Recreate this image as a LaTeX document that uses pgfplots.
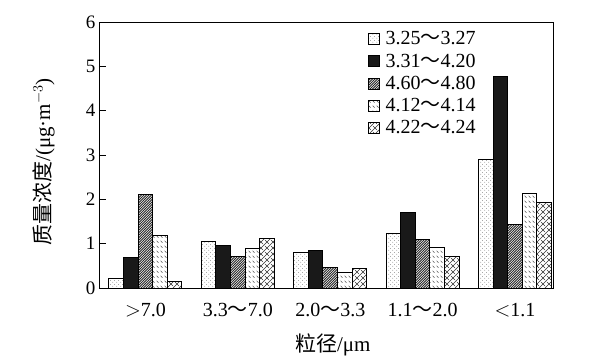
\documentclass[border=0pt]{standalone}
\usepackage{pgfplots}
\pgfplotsset{compat=1.18}
\usepackage{fontspec}
\setmainfont{Liberation Serif}
\newfontfamily\cjk{Noto Sans CJK SC}
\usetikzlibrary{patterns}

\pgfdeclarepatternformonly{sparsedots}{\pgfpoint{0pt}{0pt}}{\pgfpoint{4pt}{4pt}}{\pgfpoint{4pt}{4pt}}{%
  \pgfpathcircle{\pgfpoint{1pt}{1pt}}{0.45pt}\pgfusepath{fill}%
  \pgfpathcircle{\pgfpoint{3pt}{3pt}}{0.45pt}\pgfusepath{fill}}
\pgfdeclarepatternformonly{densehatch}{\pgfpoint{-0.5pt}{-0.5pt}}{\pgfpoint{3pt}{3pt}}{\pgfpoint{2.5pt}{2.5pt}}{%
  \pgfsetlinewidth{0.75pt}\pgfpathmoveto{\pgfpoint{-0.1pt}{-0.1pt}}\pgfpathlineto{\pgfpoint{2.6pt}{2.6pt}}\pgfusepath{stroke}}
\pgfdeclarepatternformonly{backdash}{\pgfpoint{0pt}{0pt}}{\pgfpoint{4pt}{5pt}}{\pgfpoint{4pt}{5pt}}{%
  \pgfsetlinewidth{0.55pt}\pgfpathmoveto{\pgfpoint{0.8pt}{3.8pt}}\pgfpathlineto{\pgfpoint{3.0pt}{1.6pt}}\pgfusepath{stroke}}
\pgfdeclarepatternformonly{zigcross}{\pgfpoint{-0.5pt}{-0.5pt}}{\pgfpoint{6.5pt}{6.5pt}}{\pgfpoint{6pt}{6pt}}{%
  \pgfsetlinewidth{0.6pt}\pgfpathmoveto{\pgfpoint{-0.1pt}{-0.1pt}}\pgfpathlineto{\pgfpoint{6.1pt}{6.1pt}}\pgfusepath{stroke}%
  \pgfpathmoveto{\pgfpoint{1.2pt}{4.8pt}}\pgfpathlineto{\pgfpoint{4.8pt}{1.2pt}}\pgfusepath{stroke}}

\begin{document}
\begin{tikzpicture}
\begin{axis}[
  scale only axis,
  width=454pt, height=266pt,
  xmin=-0.503, xmax=4.411,
  ymin=0, ymax=6,
  ytick={0,1,2,3,4,5,6},
  xtick={0,1,2,3,4},
  xticklabels={{$>$7.0},{3.3{\cjk ～}7.0},{2.0{\cjk ～}3.3},{1.1{\cjk ～}2.0},{$<$1.1}},
  major x tick style={draw=none},
  ytick pos=left,
  tick align=inside,
  major tick length=7pt,
  axis line style={line width=0.9pt},
  every tick/.style={line width=0.7pt, black},
  /pgf/number format/assume math mode=true,
  y tick label style={font=\fontsize{19}{22}\selectfont},
  x tick label style={font=\fontsize{20}{23}\selectfont, yshift=-5pt},
  xlabel={{\cjk 粒径}/μm},
  ylabel={{\cjk 质量浓度}/(μg·m$^{-3}$)},
  label style={font=\fontsize{21}{25}\selectfont},
  x label style={at={(axis description cs:0.515,-0.214)}, anchor=center},
  y label style={at={(axis description cs:-0.122,0.474)}, anchor=center, rotate=0},
  ybar, bar width=0.158,
  legend style={draw=none, fill=none, font=\fontsize{20}{23}\selectfont,
    at={(axis description cs:0.592,0.972)}, anchor=north west,
    row sep=3.5pt, inner sep=0pt, cells={anchor=west},
    /tikz/every odd column/.append style={column sep=4pt}},
  legend image code/.code={\draw[#1, line width=0.6pt] (0pt,-5.5pt) rectangle (11pt,5.5pt);},
  every axis plot/.append style={draw=black, line width=1pt},
]
\addplot[bar shift=-0.316, pattern=sparsedots, pattern color=black!60] coordinates {(0,0.22) (1,1.06) (2,0.80) (3,1.23) (4,2.90)};
\addplot[bar shift=-0.158, fill=black!90] coordinates {(0,0.68) (1,0.95) (2,0.85) (3,1.71) (4,4.78)};
\addplot[bar shift=0, pattern=densehatch, pattern color=black!85] coordinates {(0,2.12) (1,0.72) (2,0.46) (3,1.10) (4,1.44)};
\addplot[bar shift=0.158, pattern=backdash, pattern color=black!70] coordinates {(0,1.18) (1,0.90) (2,0.35) (3,0.92) (4,2.14)};
\addplot[bar shift=0.316, pattern=zigcross, pattern color=black!80] coordinates {(0,0.14) (1,1.11) (2,0.44) (3,0.71) (4,1.93)};
\addlegendentry{3.25{\cjk ～}3.27}
\addlegendentry{3.31{\cjk ～}4.20}
\addlegendentry{4.60{\cjk ～}4.80}
\addlegendentry{4.12{\cjk ～}4.14}
\addlegendentry{4.22{\cjk ～}4.24}
\end{axis}
\pgfresetboundingbox
\useasboundingbox (current axis.south west) ++(-99pt,-71pt) rectangle ++(600pt,359pt);
\end{tikzpicture}
\end{document}
